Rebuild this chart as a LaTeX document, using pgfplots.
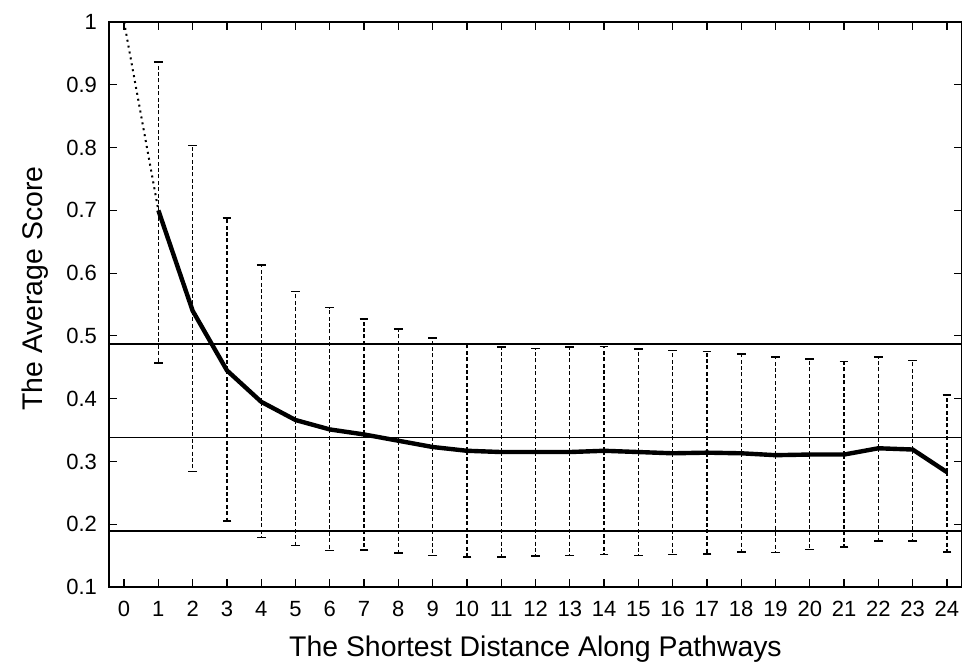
\documentclass[border=0pt]{standalone}
\usepackage{pgfplots}
\usepackage{pgfplotstable}
\pgfplotsset{compat=1.18}
\usepackage{fontspec}
\setmainfont{Liberation Sans}

\pgfplotstableread{
x  y     lo    hi
1  0.700 0.457 0.936
2  0.540 0.284 0.803
3  0.445 0.205 0.688
4  0.395 0.179 0.613
5  0.366 0.166 0.571
6  0.351 0.158 0.545
7  0.343 0.159 0.527
8  0.333 0.154 0.511
9  0.323 0.150 0.497
10 0.317 0.148 0.487
11 0.315 0.148 0.482
12 0.315 0.149 0.480
13 0.315 0.150 0.482
14 0.317 0.152 0.483
15 0.315 0.150 0.479
16 0.313 0.152 0.477
17 0.314 0.153 0.475
18 0.313 0.156 0.471
19 0.310 0.155 0.466
20 0.311 0.160 0.463
21 0.311 0.164 0.459
22 0.321 0.173 0.466
23 0.319 0.173 0.461
24 0.283 0.156 0.406
}\scores

\begin{document}
\begin{tikzpicture}
\begin{axis}[
    scale only axis,
    width=426.5pt, height=282.5pt,
    xmin=-0.44, xmax=24.44,
    ymin=0.1, ymax=1,
    xtick={0,1,...,24},
    ytick={0.1,0.2,...,1.0},
    yticklabels={0.1,0.2,0.3,0.4,0.5,0.6,0.7,0.8,0.9,1},
    tick align=inside,
    major tick length=4pt,
    tick style={black, line width=0.6pt},
    axis line style={line width=1pt},
    ticklabel style={font=\fontsize{11}{13}\selectfont},
    yticklabel style={xshift=-2.5pt},
    xticklabel style={yshift=-3.5pt},
    /pgf/number format/assume math mode=true,
    xlabel={The Shortest Distance Along Pathways},
    ylabel={The Average Score},
    label style={font=\fontsize{14.2}{16}\selectfont},
    xlabel style={yshift=-3pt},
    ylabel style={at={(ticklabel cs:0.528)}, yshift=2pt},
    clip=false,
]
\addplot[line width=0.6pt] coordinates {(-0.44,0.487) (24.44,0.487)};
\addplot[line width=0.6pt] coordinates {(-0.44,0.338) (24.44,0.338)};
\addplot[line width=0.9pt] coordinates {(-0.44,0.189) (24.44,0.189)};
\addplot[draw=none, mark=none,
    error bars/.cd, y dir=both, y explicit,
    error bar style={line width=0.6pt, dash pattern=on 2pt off 1.2pt},
    error mark options={rotate=90, mark size=2.2pt, solid, line width=0.8pt}]
    table[x=x, y=y, y error plus expr=\thisrow{hi}-\thisrow{y},
          y error minus expr=\thisrow{y}-\thisrow{lo}] {\scores};
\addplot[line width=1pt, dotted] coordinates {(0,1) (1,0.700)};
\addplot[line width=2.2pt, mark=none] table[x=x, y=y] {\scores};
\end{axis}
\pgfresetboundingbox
\path[use as bounding box] ([xshift=-54.5pt,yshift=11pt]current axis.north west)
    rectangle ([yshift=-39pt]current axis.south east);
\end{tikzpicture}
\end{document}
